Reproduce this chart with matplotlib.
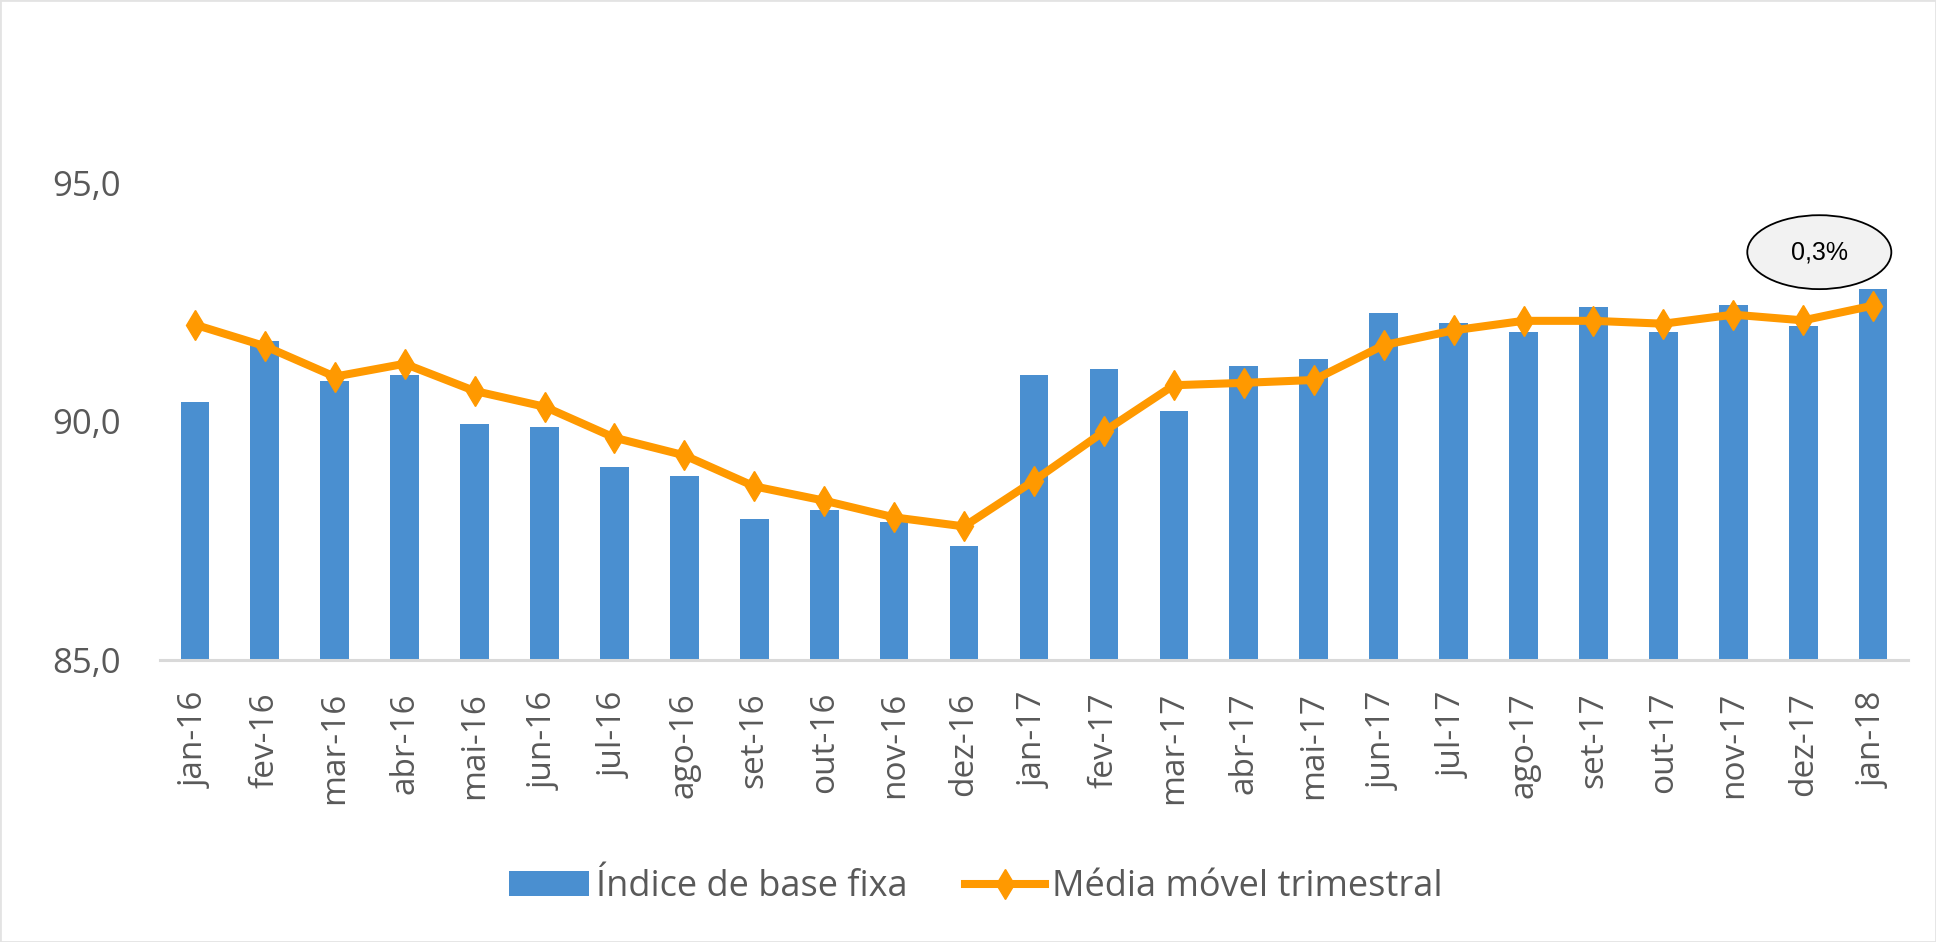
import numpy as np
import matplotlib
matplotlib.use("Agg")
import matplotlib.pyplot as plt
from matplotlib.patches import Ellipse, Rectangle

# dados
meses = ["jan-16", "fev-16", "mar-16", "abr-16", "mai-16", "jun-16", "jul-16",
         "ago-16", "set-16", "out-16", "nov-16", "dez-16", "jan-17", "fev-17",
         "mar-17", "abr-17", "mai-17", "jun-17", "jul-17", "ago-17", "set-17",
         "out-17", "nov-17", "dez-17", "jan-18"]
indice = [90.40, 91.69, 90.85, 90.98, 89.95, 89.89, 89.05, 88.86, 87.96, 88.15,
          87.89, 87.39, 90.98, 91.11, 90.21, 91.17, 91.30, 92.27, 92.07, 91.88,
          92.39, 91.88, 92.45, 92.01, 92.78]
media_movel = [92.03, 91.58, 90.94, 91.21, 90.64, 90.31, 89.66, 89.29, 88.64,
               88.34, 87.99, 87.80, 88.76, 89.79, 90.76, 90.81, 90.87, 91.60,
               91.91, 92.11, 92.11, 92.05, 92.24, 92.12, 92.43]
y_ticks = [85, 90, 95]
nota = "0,3%"

plt.rcParams['font.family'] = ['Open Sans', 'DejaVu Sans']
cinza = '#595959'

fig = plt.figure(figsize=(19.36, 9.42), dpi=100)
ax = fig.add_axes([0.0826, 0.2994, 0.903, 0.6076])

x = np.arange(len(meses))
barras = ax.bar(x, indice, width=0.41, color='#4a8fd0', label='Índice de base fixa', zorder=2)
linha, = ax.plot(x, media_movel, color='#ff9900', lw=5.8, marker='d', ms=15,
                 label='Média móvel trimestral', zorder=3)

ax.set_xlim(-0.5, len(meses) - 0.5)
ax.set_ylim(85, 97)
ax.set_yticks(y_ticks)
ax.set_yticklabels([f"{v:.1f}".replace('.', ',') for v in y_ticks],
                   fontsize=25, color=cinza)
ax.set_xticks(x)
ax.set_xticklabels(meses, rotation=90, fontsize=24, color=cinza)
ax.tick_params(axis='y', length=0, pad=28)
ax.tick_params(axis='x', length=0, pad=23)

for s in ['top', 'right', 'left']:
    ax.spines[s].set_visible(False)
ax.spines['bottom'].set_color('#d9d9d9')
ax.spines['bottom'].set_linewidth(2.2)

# nota da variação
ax.add_patch(Ellipse((23.23, 93.55), 2.06, 1.55, facecolor='#f2f2f2',
                     edgecolor='black', lw=1.3, zorder=4))
ax.text(23.23, 93.55, nota, ha='center', va='center', fontsize=18,
        family='Liberation Sans', zorder=5)

leg = fig.legend([barras, linha], ['Índice de base fixa', 'Média móvel trimestral'],
                 loc='center', bbox_to_anchor=(0.504, 0.058), ncol=2,
                 frameon=False, fontsize=26, handlelength=2.2,
                 columnspacing=1.6, handletextpad=0.2)
for t in leg.get_texts():
    t.set_color(cinza)

# moldura
fig.patches.append(Rectangle((0, 0), 1, 1, transform=fig.transFigure,
                             fill=False, edgecolor='#e3e3e3', lw=2))

fig.savefig('out.png', dpi=100)
